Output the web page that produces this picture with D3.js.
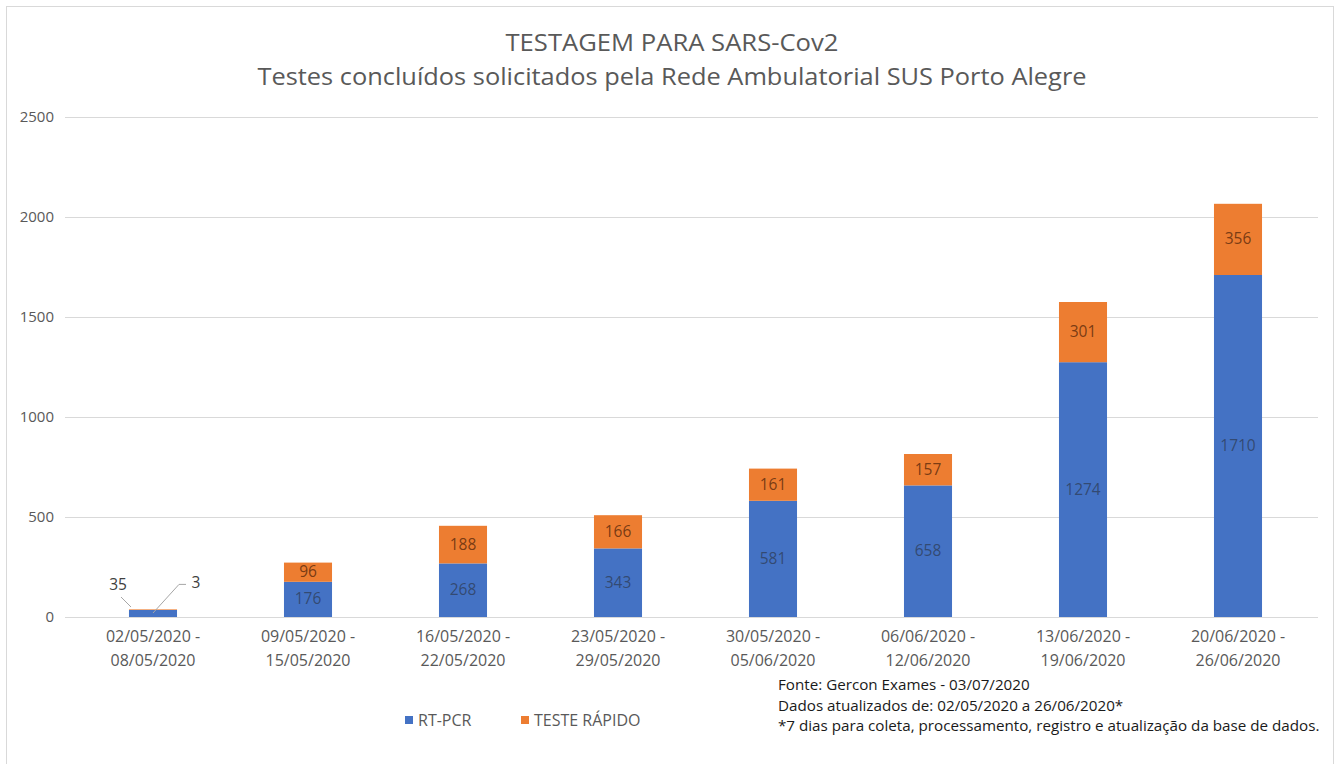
<!DOCTYPE html>
<html><head><meta charset="utf-8">
<script src="https://cdn.jsdelivr.net/npm/d3@7"></script>
<style>
html,body{margin:0;padding:0;background:#fff;}
svg{display:block;font-family:"Open Sans",sans-serif;}
</style></head>
<body>
<svg id="chart" width="1341" height="764"></svg>
<script>
const categories = [
  ["02/05/2020 -","08/05/2020"],["09/05/2020 -","15/05/2020"],["16/05/2020 -","22/05/2020"],
  ["23/05/2020 -","29/05/2020"],["30/05/2020 -","05/06/2020"],["06/06/2020 -","12/06/2020"],
  ["13/06/2020 -","19/06/2020"],["20/06/2020 -","26/06/2020"]
];
const rtpcr = [35,176,268,343,581,658,1274,1710];
const rapido = [3,96,188,166,161,157,301,356];
const yTicks = [0,500,1000,1500,2000,2500];
const seriesNames = ["RT-PCR","TESTE RÁPIDO"];
const colors = ["#4472C4","#ED7D31"];
const titleLines = ["TESTAGEM PARA SARS-Cov2","Testes concluídos solicitados pela Rede Ambulatorial SUS Porto Alegre"];
const notes = ["Fonte: Gercon Exames - 03/07/2020","Dados atualizados de: 02/05/2020 a 26/06/2020*","*7 dias para coleta, processamento, registro e atualização da base de dados."];

const svg = d3.select("#chart");
// outer border
svg.append("rect").attr("x",6.5).attr("y",6.5).attr("width",1327).attr("height",760)
  .attr("fill","none").attr("stroke","#d9d9d9");

const x = d3.scaleBand().domain(d3.range(categories.length)).range([75.5,1315.5]).paddingInner(0.69).paddingOuter(0.345);
const y = d3.scaleLinear().domain([0,2500]).range([617,117]);

// title
const titleW = [333, 829];
svg.selectAll("text.title").data(titleLines).join("text")
  .attr("x",672).attr("y",(d,i)=>51+i*34).attr("text-anchor","middle")
  .attr("font-size",24).attr("fill","#595959").attr("font-family","'Open Sans',sans-serif")
  .attr("textLength",(d,i)=>titleW[i]).attr("lengthAdjust","spacingAndGlyphs")
  .text(d=>d);

// gridlines
svg.append("g").selectAll("line").data(yTicks).join("line")
  .attr("x1",65).attr("x2",1318).attr("y1",d=>Math.round(y(d))+0.5).attr("y2",d=>Math.round(y(d))+0.5)
  .attr("stroke","#d9d9d9").attr("stroke-width",1);

// y axis
const yAxis = svg.append("g").attr("transform","translate(54,0)")
  .call(d3.axisLeft(y).tickValues(yTicks).tickSize(0).tickPadding(0).tickFormat(d3.format("d")));
yAxis.select(".domain").remove();
yAxis.selectAll("text").attr("font-size",15).attr("fill","#595959").attr("font-family","'Open Sans',sans-serif");

// x axis
const xAxis = svg.append("g").attr("transform","translate(0,617)")
  .call(d3.axisBottom(x).tickSize(0).tickFormat(""));
xAxis.select(".domain").remove();
xAxis.selectAll(".tick").each(function(d){
  const t = d3.select(this).append("text").attr("fill","#595959").attr("font-size",16)
    .attr("text-anchor","middle").attr("font-family","'Open Sans',sans-serif");
  categories[d].forEach((line,i)=>t.append("tspan").attr("x",0).attr("y",25+i*24).text(line));
});

// stacked bars
const rows = categories.map((c,i)=>({i, rt:rtpcr[i], ra:rapido[i]}));
const stack = d3.stack().keys(["rt","ra"])(rows);
const g = svg.append("g");
stack.forEach((layer,k)=>{
  g.selectAll(null).data(layer).join("rect")
    .attr("x",d=>x(d.data.i)).attr("width",x.bandwidth())
    .attr("y",d=>y(d[1])).attr("height",d=>y(d[0])-y(d[1]))
    .attr("fill",colors[k]);
});

// labels
const lab = svg.append("g").attr("font-size",15.5).attr("font-family","'Open Sans',sans-serif").attr("text-anchor","middle");
stack.forEach((layer,k)=>{
  layer.forEach(d=>{
    const val = d[1]-d[0];
    const cx = x(d.data.i)+x.bandwidth()/2;
    const h = y(d[0])-y(d[1]);
    if (h >= 18) {
      lab.append("text").attr("x",cx).attr("y",(y(d[0])+y(d[1]))/2+5)
        .attr("fill",k===0?"#2f3f5c":"#5a2a0c").attr("fill-opacity",0.8).text(val);
    } else if (k===0) {
      lab.append("text").attr("x",cx-35).attr("y",y(d[1])-20).attr("fill","#404040").text(val);
      svg.append("path").attr("d",`M${cx-32},${y(d[1])-13} L${cx-22},${y(d[1])-3}`)
        .attr("stroke","#a6a6a6").attr("fill","none");
    } else {
      lab.append("text").attr("x",cx+43).attr("y",y(d[1])-21).attr("fill","#404040").text(val);
      svg.append("path").attr("d",`M${cx},${y(d[0])+3} L${cx+26},${y(d[1])-25} L${cx+33},${y(d[1])-25}`)
        .attr("stroke","#a6a6a6").attr("fill","none");
    }
  });
});

// legend
const leg = svg.append("g").attr("font-family","'Open Sans',sans-serif");
const legX = [405,521];
seriesNames.forEach((n,i)=>{
  leg.append("rect").attr("x",legX[i]).attr("y",716).attr("width",8).attr("height",8).attr("fill",colors[i]);
  leg.append("text").attr("x",legX[i]+13).attr("y",726).attr("font-size",16).attr("fill","#595959").text(n);
});

// notes
svg.append("g").selectAll("text").data(notes).join("text")
  .attr("x",778).attr("y",(d,i)=>690+i*20.5).attr("font-size",15.2).attr("fill","#1a1a1a")
  .attr("font-family","'Open Sans',sans-serif").text(d=>d);
</script>
</body></html>
